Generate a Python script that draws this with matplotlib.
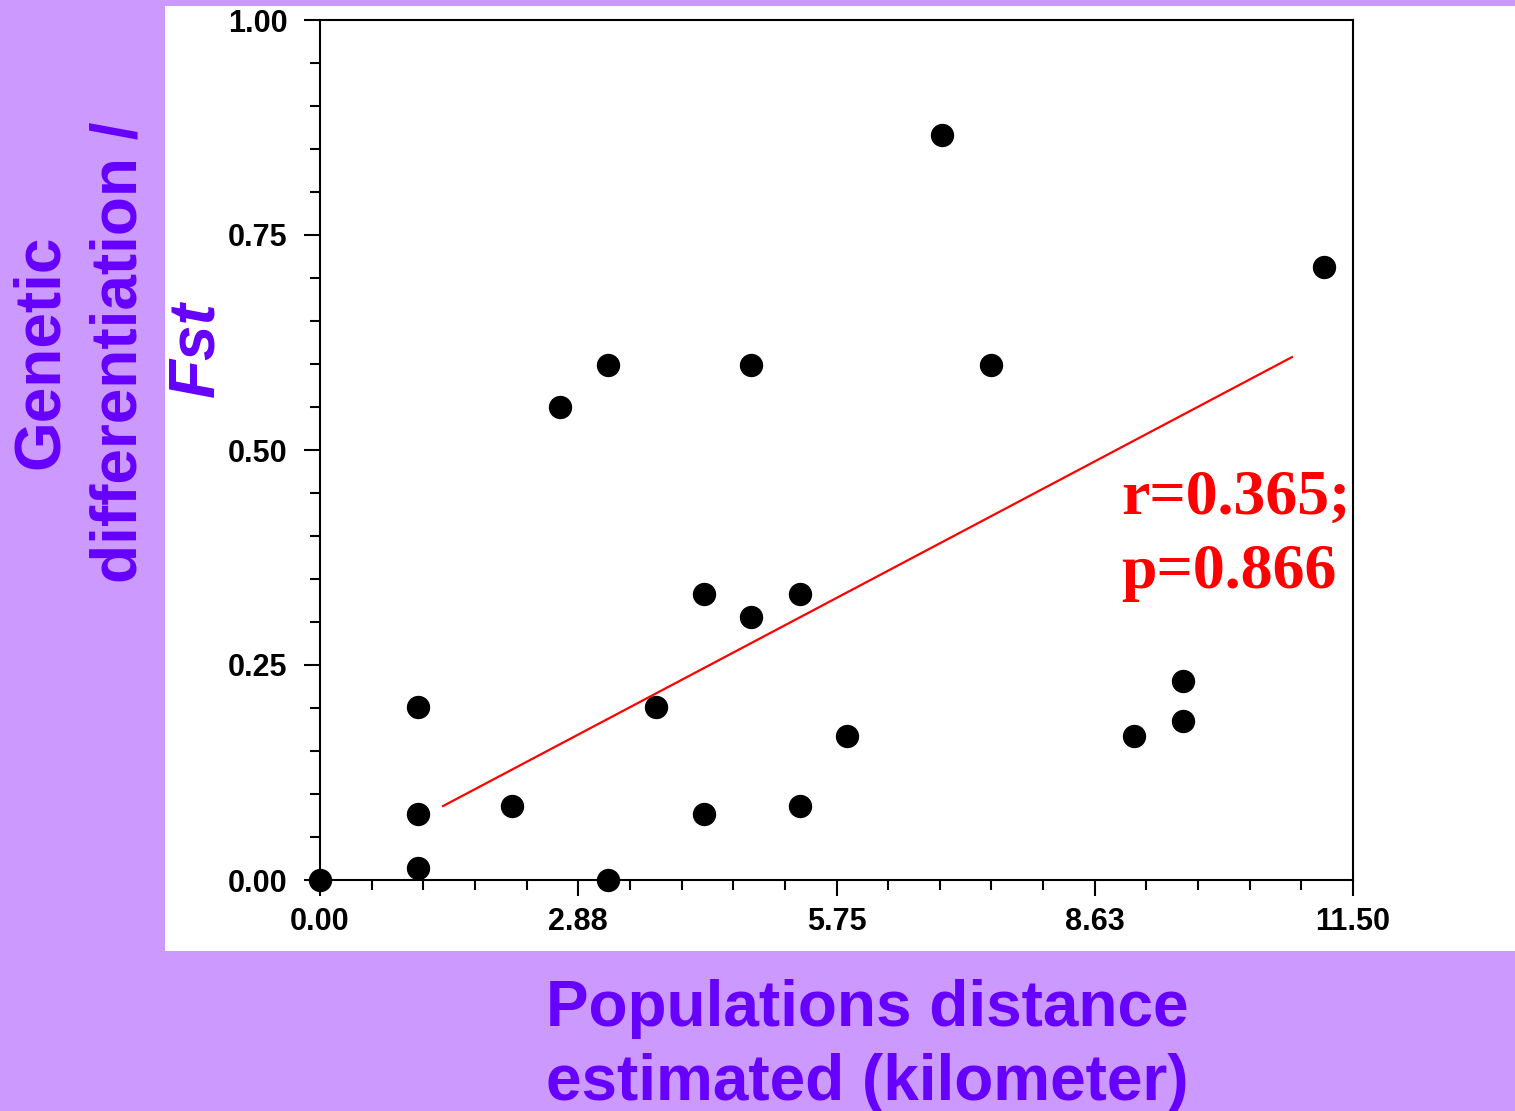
import matplotlib
matplotlib.use("Agg")
import matplotlib.pyplot as plt
from matplotlib.patches import Rectangle
from matplotlib.ticker import MultipleLocator, FixedLocator

# ---- data ----
distance_km = [0.00, 1.09, 1.09, 1.09, 2.14, 2.67, 3.21, 3.21, 3.74, 4.27, 4.27,
               4.80, 4.80, 5.34, 5.34, 5.87, 6.93, 7.47, 9.06, 9.61, 9.61, 11.18]
fst = [0.000, 0.014, 0.077, 0.201, 0.086, 0.550, 0.599, 0.000, 0.201, 0.333, 0.077,
       0.306, 0.599, 0.333, 0.086, 0.167, 0.866, 0.599, 0.167, 0.231, 0.185, 0.713]
fit_x = [1.37, 10.82]
fit_y = [0.086, 0.608]
x_ticks = [0.0, 2.875, 5.75, 8.625, 11.5]
x_ticklabels = ["0.00", "2.88", "5.75", "8.63", "11.50"]
y_ticks = [0.0, 0.25, 0.5, 0.75, 1.0]
y_ticklabels = ["0.00", "0.25", "0.50", "0.75", "1.00"]
stat_text = "r=0.365;\np=0.866"

PURPLE_BG = "#CC99FF"
LABEL_COL = "#6600FF"

fig = plt.figure(figsize=(15.15, 11.11), dpi=100)
fig.patch.set_facecolor(PURPLE_BG)
fig.patches.append(Rectangle((165/1515, 1-951/1111), 1-165/1515, (951-6)/1111,
                             transform=fig.transFigure, facecolor="white",
                             edgecolor="none", zorder=-10))

ax = fig.add_axes([320/1515, 1-880/1111, (1353-320)/1515, (880-20)/1111])
ax.set_facecolor("white")
ax.scatter(distance_km, fst, s=250, color="black", zorder=5, clip_on=False)
ax.plot(fit_x, fit_y, color="red", lw=1.6, zorder=4)

ax.set_xlim(0, 11.5)
ax.set_ylim(0, 1.0)
ax.xaxis.set_major_locator(FixedLocator(x_ticks))
ax.xaxis.set_minor_locator(MultipleLocator(0.575))
ax.yaxis.set_major_locator(FixedLocator(y_ticks))
ax.yaxis.set_minor_locator(MultipleLocator(0.05))
ax.set_xticklabels(x_ticklabels)
ax.set_yticklabels(y_ticklabels)
for lab in ax.get_xticklabels() + ax.get_yticklabels():
    lab.set_fontfamily("Liberation Sans")
    lab.set_fontweight("bold")
    lab.set_fontsize(22)
ax.tick_params(axis="both", which="major", direction="out", length=11.5, width=1.5, colors="black")
ax.tick_params(axis="both", which="minor", direction="out", length=7.5, width=1.5)
ax.tick_params(axis="y", which="major", pad=12)
ax.tick_params(axis="x", which="major", pad=8)
for sp in ax.spines.values():
    sp.set_linewidth(1.5)

ax.text(1121/1515, 1-536/1111, stat_text, transform=fig.transFigure,
        color="red", fontsize=46, fontweight="bold", family="Liberation Serif",
        ha="left", va="center", linespacing=1.38)

fig.text(867/1515, 1-1046/1111, "Populations distance\nestimated (kilometer)",
         color=LABEL_COL, fontsize=46, fontweight="bold", family="Liberation Sans",
         ha="center", va="center", linespacing=1.3)

fig.text(41/1515, 1-352/1111, "Genetic", rotation=90, color=LABEL_COL,
         fontsize=46, fontweight="bold", family="Liberation Sans", ha="center", va="center")
fig.text(120/1515, 1-352/1111, "differentiation /", rotation=90, color=LABEL_COL,
         fontsize=46, fontweight="bold", family="Liberation Sans", ha="center", va="center")
fig.text(196/1515, 1-349/1111, "Fst", rotation=90, color=LABEL_COL, fontstyle="italic",
         fontsize=46, fontweight="bold", family="Liberation Sans", ha="center", va="center")

fig.savefig("out.png", dpi=100, facecolor=fig.get_facecolor())
